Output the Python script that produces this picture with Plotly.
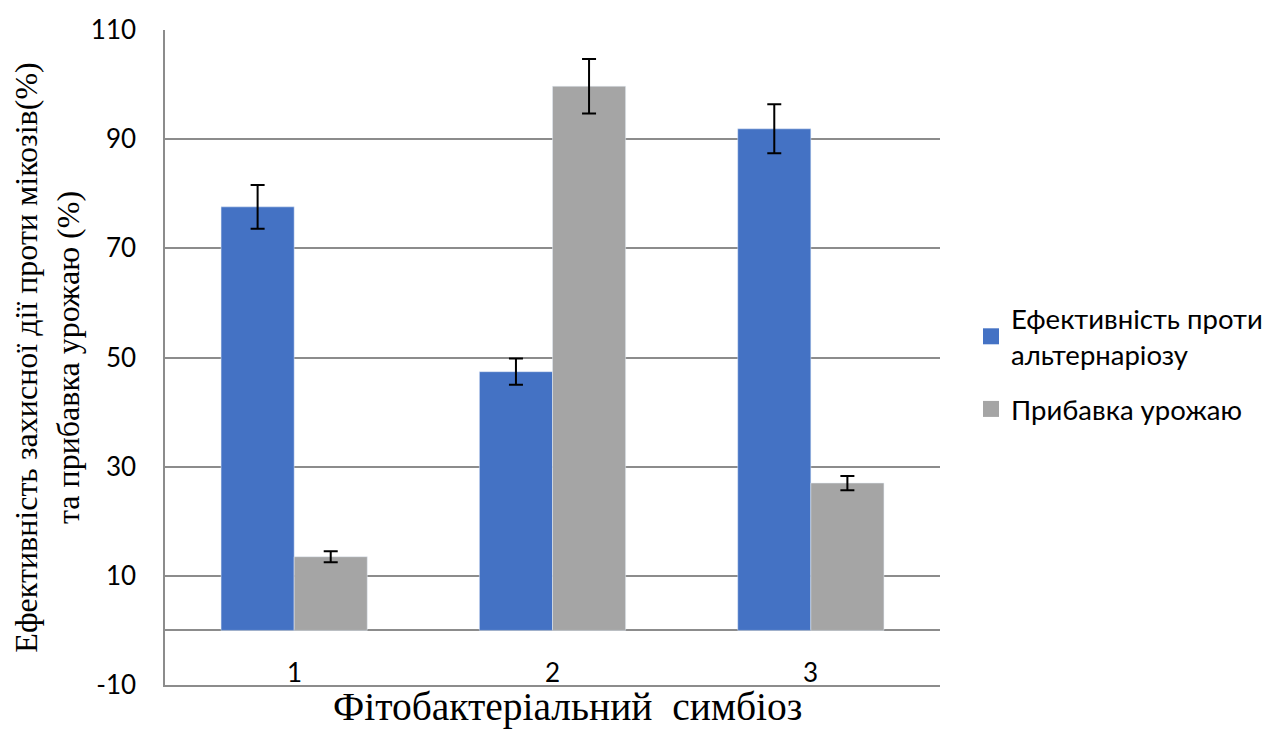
import plotly.graph_objects as go

categories = ["1", "2", "3"]
series_names = ["Ефективність проти<br>альтернаріозу", "Прибавка урожаю"]
efektyvnist = [77.6, 47.4, 91.9]
efektyvnist_err = [4.0, 2.4, 4.5]
prybavka = [13.5, 99.7, 27.0]
prybavka_err = [1.0, 5.0, 1.3]
y_ticks = [-10, 10, 30, 50, 70, 90, 110]

blue = "#4472C4"
grey = "#A5A5A5"
grid = "#8C8C8C"

fig = go.Figure()
fig.add_trace(go.Bar(
    x=categories, y=efektyvnist, name=series_names[0], showlegend=False,
    marker_color=blue,
    error_y=dict(type="data", array=efektyvnist_err, color="black", thickness=2, width=7),
))
fig.add_trace(go.Bar(
    x=categories, y=prybavka, name=series_names[1], showlegend=False,
    marker_color=grey,
    error_y=dict(type="data", array=prybavka_err, color="black", thickness=2, width=7),
))

# легенда з більшими квадратиками, як у Excel
for name, col, grp in [(series_names[0], blue, "a"), (series_names[1], grey, "b")]:
    fig.add_trace(go.Scatter(
        x=[None], y=[None], mode="markers", name=name, legendgroup=grp,
        marker=dict(symbol="square", size=16, color=col),
    ))

# підписи категорій стоять між лінією 0 і нижньою межею
for i, c in enumerate(categories):
    fig.add_annotation(x=i, y=-7.6, xref="x", yref="y", text=c, showarrow=False,
                       font=dict(family="Lato", size=26, color="black"))

# назва осі X трохи зсунута праворуч, як в оригіналі
fig.add_annotation(x=0.519, y=-0.034, xref="paper", yref="paper",
                   text="Фітобактеріальний\u00a0\u00a0симбіоз", showarrow=False,
                   xanchor="center", yanchor="middle",
                   font=dict(family="Liberation Serif", size=39.5, color="black"))

# сторінка має відступ 8px, тому фігура трохи менша
fig.update_layout(
    width=1258, height=727,
    margin=dict(l=157, r=326, t=22, b=50, autoexpand=False),
    paper_bgcolor="white", plot_bgcolor="white",
    barmode="group", bargap=0.434, bargroupgap=0,
    font=dict(family="Lato", size=26, color="black"),
    legend=dict(x=1.04, y=0.49, xanchor="left", yanchor="middle",
                font=dict(family="Lato", size=27.5, color="black"),
                tracegroupgap=16, itemwidth=30),
    showlegend=True,
)
fig.update_xaxes(
    type="category", automargin=False,
    showticklabels=False, showgrid=False, ticks="",
    showline=True, linecolor=grid, linewidth=1.5,
    range=[-0.5, 2.5],
)
fig.update_yaxes(
    automargin=False,
    range=[-10, 110], tickvals=y_ticks, ticktext=[str(v) for v in y_ticks],
    showgrid=True, gridcolor=grid, gridwidth=1.5,
    zeroline=True, zerolinecolor=grid, zerolinewidth=1.5,
    showline=True, linecolor=grid, linewidth=1.5,
    ticks="", ticklabelstandoff=22,
    tickfont=dict(family="Lato", size=26, color="black"),
    title=dict(text="Ефективність захисної дії проти мікозів(%)<br>та прибавка урожаю (%)",
               standoff=10,
               font=dict(family="Liberation Serif", size=32, color="black")),
)

fig.write_html("out.html")
